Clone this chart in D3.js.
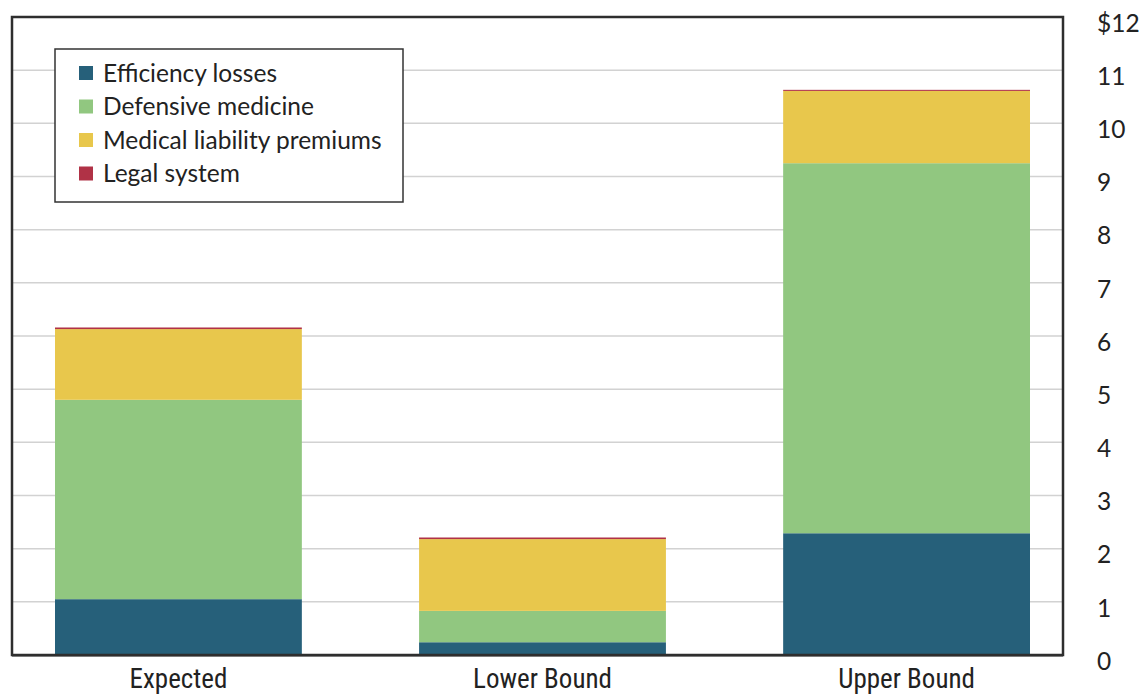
<!DOCTYPE html>
<html><head><meta charset="utf-8">
<script src="https://cdn.jsdelivr.net/npm/d3@7"></script>
<style>
html,body{margin:0;padding:0;background:#fff;}
svg{display:block;}
</style></head>
<body>
<svg id="chart" width="1146" height="694"></svg>
<script>
const categories = ["Expected", "Lower Bound", "Upper Bound"];
const seriesNames = ["Efficiency losses", "Defensive medicine", "Medical liability premiums", "Legal system"];
const efficiencyLosses = [1.05, 0.24, 2.29];
const defensiveMedicine = [3.75, 0.59, 6.96];
const liabilityPremiums = [1.33, 1.35, 1.36];
const legalSystem = [0.03, 0.03, 0.02];
const yTicks = [0,1,2,3,4,5,6,7,8,9,10,11,12];
const yTickLabels = ["0","1","2","3","4","5","6","7","8","9","10","11","$12"];
const colors = ["#26607a", "#91c780", "#e8c74c", "#b03246"];

const rows = categories.map((c,i)=>({
  cat:c,
  "Efficiency losses": efficiencyLosses[i],
  "Defensive medicine": defensiveMedicine[i],
  "Medical liability premiums": liabilityPremiums[i],
  "Legal system": legalSystem[i]
}));

const svg = d3.select("#chart");
const frame = {l:12, r:1063, t:17, b:655};

const x = d3.scaleBand().domain(categories).range([55, 1030]).paddingInner(0.322).paddingOuter(0);
const y = d3.scaleLinear().domain([0,12]).range([frame.b, frame.t]);
const color = d3.scaleOrdinal().domain(seriesNames).range(colors);

// gridlines
svg.append("g").selectAll("line").data(yTicks.filter(d=>d>0 && d<12)).join("line")
  .attr("x1", frame.l).attr("x2", frame.r)
  .attr("y1", d=>y(d)).attr("y2", d=>y(d))
  .attr("stroke", "#d2d2d2").attr("stroke-width", 1.5);

// bars
const stacked = d3.stack().keys(seriesNames)(rows);
svg.append("g").selectAll("g").data(stacked).join("g")
  .attr("fill", d=>color(d.key))
  .selectAll("rect").data(d=>d).join("rect")
  .attr("x", d=>x(d.data.cat))
  .attr("width", x.bandwidth())
  .attr("y", d=>y(d[1]))
  .attr("height", d=>y(d[0]) - y(d[1]));

// frame
svg.append("rect").attr("x", frame.l).attr("y", frame.t)
  .attr("width", frame.r-frame.l).attr("height", frame.b-frame.t)
  .attr("fill","none").attr("stroke","#2e2e2e").attr("stroke-width",2.5);
svg.append("line").attr("x1", frame.l).attr("x2", frame.r).attr("y1", frame.b+0.5).attr("y2", frame.b+0.5)
  .attr("stroke","#2e2e2e").attr("stroke-width",2);

// y axis on right
const yAxis = d3.axisRight(y).tickValues(yTicks).tickSize(0).tickFormat((d,i)=>yTickLabels[i]);
const ga = svg.append("g").attr("transform", `translate(${1097},0)`).call(yAxis);
ga.select(".domain").remove();
ga.selectAll("text").attr("x",0).attr("dy","0.58em")
  .attr("font-family","Lato, 'DejaVu Sans', sans-serif").attr("font-size",24.5).attr("fill","#222");

// x axis labels
const xAxis = d3.axisBottom(x).tickSize(0);
const gx = svg.append("g").attr("transform", `translate(0,${frame.b})`).call(xAxis);
gx.select(".domain").remove();
gx.selectAll("text").attr("y", 14).attr("dy","0.71em")
  .attr("font-family","'Liberation Sans Narrow', 'Roboto Condensed', 'DejaVu Sans Condensed', sans-serif")
  .attr("font-size",27).attr("fill","#222");

// legend
const lg = svg.append("g");
lg.append("rect").attr("x",55).attr("y",49).attr("width",348).attr("height",153)
  .attr("fill","#fff").attr("stroke","#333").attr("stroke-width",1.5);
const items = lg.selectAll("g.item").data(seriesNames).join("g").attr("class","item")
  .attr("transform",(d,i)=>`translate(79,${73 + i*33.5})`);
items.append("rect").attr("x",0).attr("y",-7).attr("width",14).attr("height",14).attr("fill",d=>color(d));
items.append("text").attr("x",24).attr("y",0).attr("dy","0.36em").text(d=>d)
  .attr("font-family","Lato, 'DejaVu Sans', sans-serif").attr("font-size",24.5).attr("fill","#222");
</script>
</body></html>
